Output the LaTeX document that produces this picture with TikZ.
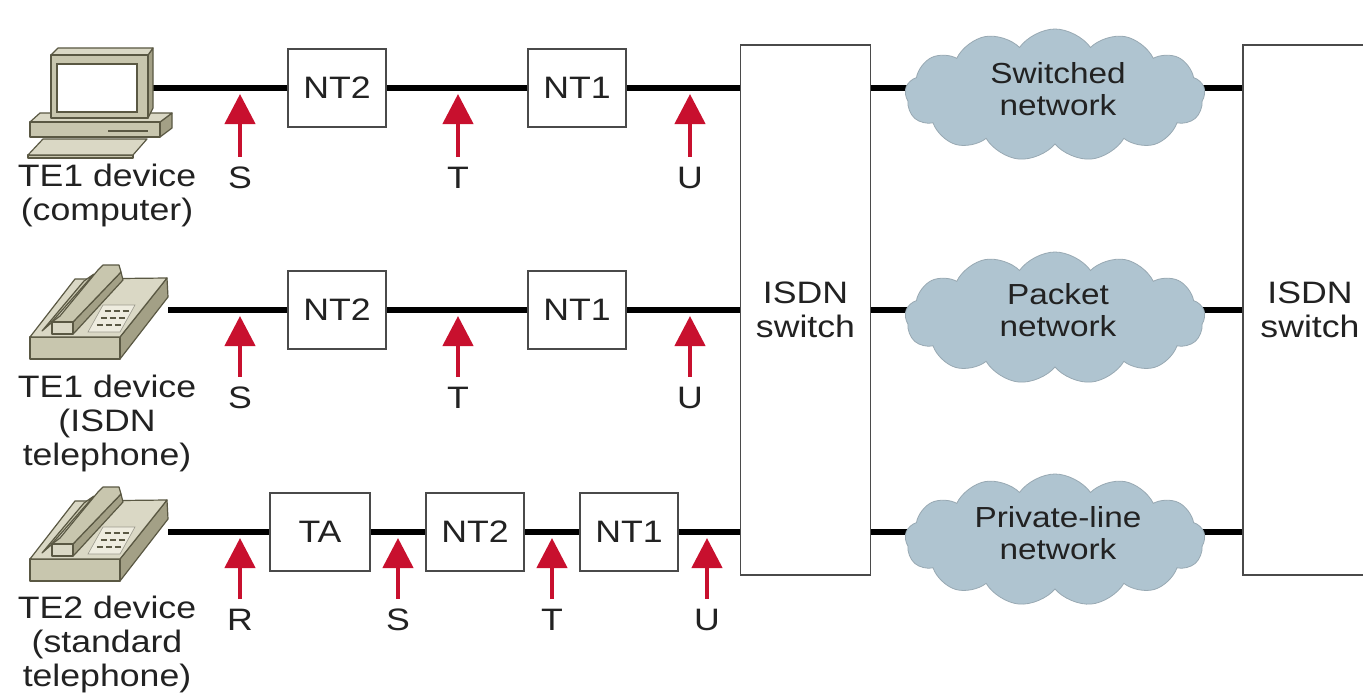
\documentclass[tikz,border=0pt]{standalone}
\usepackage{fontspec}
\setmainfont{Liberation Sans}[FakeStretch=1.15]
\usetikzlibrary{shapes.symbols,arrows.meta,backgrounds}
\definecolor{arrowred}{HTML}{C8102E}
\definecolor{cloudfill}{HTML}{AFC4D0}
\definecolor{clouddraw}{HTML}{98A9B3}
\definecolor{boxdraw}{HTML}{4A4A4A}
\definecolor{iconline}{HTML}{5A5843}
\definecolor{iconlight}{HTML}{DAD8C5}
\definecolor{iconmid}{HTML}{C8C6AE}
\definecolor{icondark}{HTML}{A3A086}
\definecolor{keypad}{HTML}{EEECDF}
\definecolor{txt}{HTML}{222222}

\newcommand\pcpicture{%
  % base
  \filldraw[ifill=icondark] (160,122) -- (172,113) -- (172,128) -- (160,137) -- cycle;
  \filldraw[ifill=iconlight] (30,122) -- (40,113) -- (172,113) -- (160,122) -- cycle;
  \filldraw[ifill=iconmid] (30,122) rectangle (160,137);
  \draw[iconline, line width=2.5pt] (108,131) -- (148,131);
  % keyboard
  \filldraw[ifill=iconmid] (28,155) -- (133,155) -- (133,158) -- (28,158) -- cycle;
  \filldraw[ifill=iconlight] (43,139) -- (147,139) -- (133,155) -- (28,155) -- cycle;
  % monitor
  \filldraw[ifill=icondark] (148,55) -- (153,48) -- (153,108) -- (148,118) -- cycle;
  \filldraw[ifill=iconlight] (51,55) -- (58,48) -- (153,48) -- (148,55) -- cycle;
  \filldraw[ifill=iconmid] (51,55) rectangle (148,118);
  \filldraw[fill=white, draw=iconline, line width=1.6pt] (57,64) rectangle (137,112);
}

\newcommand\phonepicture{%
  \filldraw[ifill=icondark] (120,337) -- (167,278) -- (168,297) -- (120,359) -- cycle;
  \filldraw[ifill=iconmid] (30,337) rectangle (120,359);
  \filldraw[ifill=iconlight] (30,337) -- (75,279) -- (167,278) -- (120,337) -- cycle;
  % cradle strip
  \filldraw[ifill=iconmid] (42,331) -- (50,324) -- (94,274) -- (84,281) -- cycle;
  % handset
  \filldraw[ifill=icondark] (73,322) -- (121,272) -- (123,280) -- (76,331) -- (73,334) -- cycle;
  \filldraw[ifill=iconmid] (52,322) -- (60,316) -- (98,270) -- (103,265) -- (119,265) -- (121,272) -- (73,322) -- cycle;
  \filldraw[ifill=iconlight] (52,322) rectangle (73,334);
  % keypad
  \filldraw[fill=keypad, draw=iconline!60, line width=0.6pt] (88,332) -- (120,332) -- (135,305) -- (103,305) -- cycle;
  \foreach \yy in {311,318,325}{
    \pgfmathsetmacro\xl{103-(\yy-305)*15/27+5}
    \foreach \k in {0,1,2}{
      \draw[iconline, line width=2.2pt] ({\xl+\k*9},\yy) -- ++(6,0);
    }
  }
}

\begin{document}
\begin{tikzpicture}[x=1pt,y=-1pt, font=\fontsize{31}{34}\selectfont, text=txt,
  wire/.style={line width=6pt, black},
  unit/.style={draw=boxdraw, line width=1.8pt, fill=white, minimum width=98pt, minimum height=78pt, inner sep=0pt},
  bigswitch/.style={draw=boxdraw, line width=1.8pt, fill=white, minimum height=530pt, align=center, inner sep=0pt},
  net/.style={cloud, cloud puffs=13, cloud puff arc=110, aspect=2.3, draw=clouddraw, fill=cloudfill, line width=0.8pt, minimum width=300pt, minimum height=132pt, inner sep=0pt},
  nettext/.style={align=center, inner sep=0pt, font=\fontsize{29}{32}\selectfont},
  reflabel/.style={inner sep=0pt},
  refarrow/.style={draw=arrowred, line width=4.5pt, -{Triangle[width=30pt,length=30pt]}, shorten <=10pt},
  devlabel/.style={align=center, inner sep=0pt},
  ifill/.style={fill=#1, draw=iconline, line width=1.2pt, line join=round},
]
\useasboundingbox (0,0) rectangle (1363,693);
\clip (0,0) rectangle (1363,693);

% ---- icons
\pcpicture
\phonepicture
\begin{scope}[shift={(0,222)}]\phonepicture\end{scope}
\coordinate (pc) at (153,88);
\coordinate (ph2) at (168,310);
\coordinate (ph3) at (168,532);

% ---- device labels
\node[devlabel] (d1) at (107,195) {TE1 device\\(computer)};
\node[devlabel] (d2) at (107,423) {TE1 device\\(ISDN\\telephone)};
\node[devlabel] (d3) at (107,644) {TE2 device\\(standard\\telephone)};

% ---- switches
\node[bigswitch, minimum width=130pt] (sw) at (805.5,310) {ISDN\\switch};
\node[bigswitch, minimum width=134pt] (sw2) at (1310,310) {ISDN\\switch};

% ---- row 1
\node[unit] (nt2a) at (337,88) {NT2};
\node[unit] (nt1a) at (577,88) {NT1};
% ---- row 2
\node[unit] (nt2b) at (337,310) {NT2};
\node[unit] (nt1b) at (577,310) {NT1};
% ---- row 3
\node[unit, minimum width=100pt] (ta) at (320,532) {TA};
\node[unit] (nt2c) at (475,532) {NT2};
\node[unit] (nt1c) at (629,532) {NT1};

% ---- clouds
\node[net] (c1) at (1055,95) {};
\node[nettext] (c1t) at (1058,89) {Switched\\network};
\node[net] (c2) at (1055,318) {};
\node[nettext] (c2t) at (1058,310) {Packet\\network};
\node[net] (c3) at (1055,540) {};
\node[nettext] (c3t) at (1058,533) {Private-line\\network};

% ---- wires
\begin{scope}[on background layer]
  \fill[white] (0,0) rectangle (1363,693);
  \draw[wire] (pc) -- (nt2a);
  \draw[wire] (nt2a) -- (nt1a);
  \draw[wire] (nt1a) -- (nt1a -| sw.west);
  \draw[wire] (ph2) -- (nt2b);
  \draw[wire] (nt2b) -- (nt1b);
  \draw[wire] (nt1b) -- (nt1b -| sw.west);
  \draw[wire] (ph3) -- (ta);
  \draw[wire] (ta) -- (nt2c);
  \draw[wire] (nt2c) -- (nt1c);
  \draw[wire] (nt1c) -- (nt1c -| sw.west);
  \draw[wire] (sw.east |- nt1a) -- (sw2.west |- nt1a);
  \draw[wire] (sw.east |- nt1b) -- (sw2.west |- nt1b);
  \draw[wire] (sw.east |- ph3) -- (sw2.west |- ph3);
\end{scope}

% ---- reference points
\node[reflabel] (S1) at (240,178) {S};
\node[reflabel] (T1) at (458,178) {T};
\node[reflabel] (U1) at (690,178) {U};
\node[reflabel] (S2) at (240,398) {S};
\node[reflabel] (T2) at (458,398) {T};
\node[reflabel] (U2) at (690,398) {U};
\node[reflabel] (R3) at (240,620) {R};
\node[reflabel] (S3) at (398,620) {S};
\node[reflabel] (T3) at (552,620) {T};
\node[reflabel] (U3) at (707,620) {U};

\foreach \n/\yl in {S1/94,T1/94,U1/94,S2/316,T2/316,U2/316,R3/538,S3/538,T3/538,U3/538}{
  \coordinate (p\n) at (\n.north |- 0,\yl);
  \draw[refarrow] (\n.north) -- (p\n);
}
\end{tikzpicture}
\end{document}
